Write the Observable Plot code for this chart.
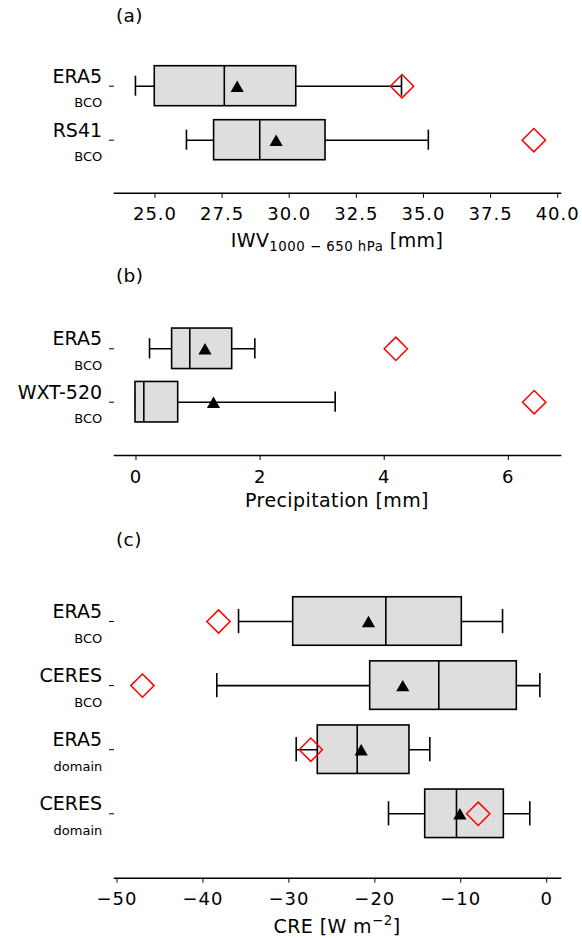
<!DOCTYPE html>
<html>
<head>
<meta charset="utf-8">
<script src="https://cdn.jsdelivr.net/npm/d3@7"></script>
<script src="https://cdn.jsdelivr.net/npm/@observablehq/plot@0.6"></script>
<style>
  body { margin: 0; background: #fff; }
  #chart { position: relative; width: 582px; height: 939px; font-family: "DejaVu Sans", sans-serif; color: #000; overflow: hidden; }
  #chart svg.panel { position: absolute; left: 0; overflow: visible; }
  .lbl { position: absolute; white-space: nowrap; line-height: 1; letter-spacing: 0.4px; }
  .xl { left: 114px; width: 446px; text-align: center; }
  .sub { font-size: 0.7em; line-height: 0; vertical-align: -3.5px; letter-spacing: 0.5px; }
  .sup { font-size: 0.7em; line-height: 0; vertical-align: 8px; letter-spacing: 0.5px; }
  #chart g[aria-label="x-axis tick label"] { letter-spacing: 1px; }
  #chart g[aria-label="ylab-main"] { letter-spacing: 0.6px; }
  #chart g[aria-label="ylab-sub"] { letter-spacing: 0.8px; }
</style>
</head>
<body>
<div id="chart"></div>
<script>
// ---------- Panel (a): IWV ----------
const namesA = ["ERA5", "RS41"];
const subsA = ["BCO", "BCO"];
const loA = [24.29, 26.19];
const q1A = [25.01, 27.22];
const medA = [27.60, 28.92];
const q3A = [30.28, 31.37];
const hiA = [34.20, 35.20];
const meanA = [28.08, 29.53];
const diaA = [34.22, 39.13];
const ticksA = [25, 27.5, 30, 32.5, 35, 37.5, 40];

// ---------- Panel (b): Precipitation ----------
const namesB = ["ERA5", "WXT-520"];
const subsB = ["BCO", "BCO"];
const loB = [0.226, 0.0];
const q1B = [0.59, 0.0];
const medB = [0.875, 0.134];
const q3B = [1.558, 0.688];
const hiB = [1.923, 3.218];
const meanB = [1.12, 1.257];
const diaB = [4.195, 6.425];
const ticksB = [0, 2, 4, 6];

// ---------- Panel (c): CRE ----------
const namesC = ["ERA5", "CERES", "ERA5", "CERES"];
const subsC = ["BCO", "BCO", "domain", "domain"];
const loC = [-35.8, -38.33, -29.09, -18.35];
const q1C = [-29.44, -20.48, -26.58, -14.08];
const medC = [-18.66, -12.5, -21.99, -10.44];
const q3C = [-9.82, -3.42, -15.91, -4.93];
const hiC = [-5.08, -0.74, -13.54, -1.91];
const meanC = [-20.68, -16.69, -21.53, -10.05];
const diaC = [-38.13, -46.98, -27.39, -7.91];
const ticksC = [-50, -40, -30, -20, -10, 0];

const chart = document.getElementById("chart");

function makePanel(p) {
  const rows = p.names.map((n, i) => ({
    key: n + "|" + p.subs[i] + "|" + i,
    name: n, sub: p.subs[i],
    lo: p.lo[i], q1: p.q1[i], med: p.med[i], q3: p.q3[i], hi: p.hi[i],
    mean: p.mean[i], dia: p.dia[i]
  }));
  const n = rows.length;
  const pi = 1 - p.bw / p.step;
  const capInset = p.bw / 4;
  const svg = Plot.plot({
    width: 582,
    height: p.height,
    marginLeft: 114,
    marginRight: 22,
    marginTop: 0,
    marginBottom: p.marginBottom,
    style: { fontFamily: "DejaVu Sans, sans-serif", fontSize: "18px", background: "transparent", color: "#000" },
    x: { domain: p.domain },
    y: {
      type: "band",
      domain: rows.map(r => r.key),
      range: [p.c0 - p.step / 2, p.c0 + (n - 0.5) * p.step],
      paddingInner: pi,
      paddingOuter: pi / 2,
      align: 0.5,
      round: false
    },
    marks: [
      Plot.ruleY(rows, { y: "key", x1: "lo", x2: "hi", stroke: "#000", strokeWidth: 1.6 }),
      Plot.tickX(rows, { x: "lo", y: "key", insetTop: capInset, insetBottom: capInset, stroke: "#000", strokeWidth: 1.6 }),
      Plot.tickX(rows, { x: "hi", y: "key", insetTop: capInset, insetBottom: capInset, stroke: "#000", strokeWidth: 1.6 }),
      Plot.barX(rows, { x1: "q1", x2: "q3", y: "key", fill: "#dedede", stroke: "#000", strokeWidth: 1.6 }),
      Plot.tickX(rows, { x: "med", y: "key", stroke: "#000", strokeWidth: 1.6 }),
      Plot.dot(rows, { x: "mean", y: "key", symbol: "triangle", r: 4.9, fill: "#000", stroke: "none", dy: 1.9 }),
      Plot.dot(rows, { x: "dia", y: "key", symbol: "diamond2", r: 10.5, fill: "none", stroke: "#ff0000", strokeWidth: 1.5 }),
      Plot.text(rows, { y: "key", text: "name", frameAnchor: "left", textAnchor: "end", lineAnchor: "bottom", dx: -12.4, dy: -3.5, fontSize: 19, fill: "#000", ariaLabel: "ylab-main" }),
      Plot.text(rows, { y: "key", text: "sub", frameAnchor: "left", textAnchor: "end", lineAnchor: "bottom", dx: -12.2, dy: 21, fontSize: 13, fill: "#000", ariaLabel: "ylab-sub" }),
      Plot.axisY({ tickSize: 5, tickFormat: () => "", label: null }),
      Plot.axisX({ ticks: p.ticks, tickFormat: p.fmt, tickSize: 5, tickPadding: 9.5, dx: 0.5, label: null }),
      Plot.frame({ anchor: "bottom", stroke: "#000", strokeWidth: 1.6 })
    ]
  });
  svg.classList.add("panel");
  svg.style.top = p.top + "px";
  chart.appendChild(svg);
}

const minusFmt = d => (d < 0 ? "\u2212" + Math.abs(d) : String(d));

makePanel({
  names: namesA, subs: subsA, lo: loA, q1: q1A, med: medA, q3: q3A, hi: hiA, mean: meanA, dia: diaA,
  ticks: ticksA, fmt: d3.format(".1f"), domain: [23.51, 40.123],
  top: 0, height: 230, marginBottom: 37.3, c0: 85.7, step: 54, bw: 40
});
makePanel({
  names: namesB, subs: subsB, lo: loB, q1: q1B, med: medB, q3: q3B, hi: hiB, mean: meanB, dia: diaB,
  ticks: ticksB, fmt: minusFmt, domain: [-0.3384, 6.849],
  top: 260, height: 230, marginBottom: 35, c0: 88.3, step: 53.4, bw: 40.5
});
makePanel({
  names: namesC, subs: subsC, lo: loC, q1: q1C, med: medC, q3: q3C, hi: hiC, mean: meanC, dia: diaC,
  ticks: ticksC, fmt: minusFmt, domain: [-50.233, 1.664],
  top: 520, height: 400, marginBottom: 42.3, c0: 101, step: 64.1, bw: 48.5
});

// ---------- Titles and axis labels ----------
function addLabel(html, cls, left, baseline, fs) {
  const d = document.createElement("div");
  d.className = "lbl " + cls;
  d.innerHTML = html;
  d.style.fontSize = fs + "px";
  if (left != null) d.style.left = left + "px";
  d.style.top = (baseline - 0.846 * fs) + "px";
  chart.appendChild(d);
}
addLabel("(a)", "", 116, 22.7, 18.5);
addLabel("(b)", "", 116, 283, 18.5);
addLabel("(c)", "", 116, 547, 18.5);
addLabel('IWV<span class="sub">1000 \u2212 650 hPa</span> [mm]', "xl", null, 246.7, 19);
addLabel("Precipitation [mm]", "xl", null, 507, 19);
addLabel('CRE [W m<span class="sup">\u22122</span>]', "xl", null, 933, 19);
</script>
</body>
</html>
